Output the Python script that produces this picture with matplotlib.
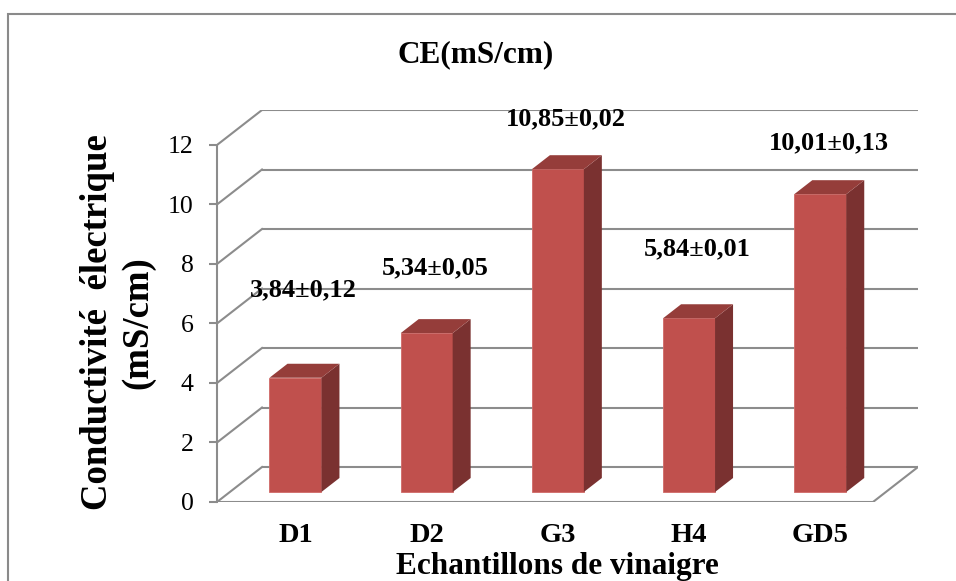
import matplotlib
matplotlib.use("Agg")
import matplotlib.pyplot as plt
from matplotlib.patches import Polygon
from matplotlib.lines import Line2D

# Electrical conductivity of the vinegar samples (mean ± sd, mS/cm)
samples = ["D1", "D2", "G3", "H4", "GD5"]
ce_mean = [3.84, 5.34, 10.85, 5.84, 10.01]
ce_sd = [0.12, 0.05, 0.02, 0.01, 0.13]
y_ticks = [0, 2, 4, 6, 8, 10, 12]

value_labels = [f"{m:.2f}±{s:.2f}".replace(".", ",") for m, s in zip(ce_mean, ce_sd)]
# vertical lift of each value label above its bar top (data units)
label_lift = [3.29, 2.53, 2.02, 2.67, 2.06]

plt.rcParams["font.family"] = ["Liberation Serif", "DejaVu Serif"]

W, H = 956, 581
fig = plt.figure(figsize=(W / 100, H / 100), dpi=100)
fig.patch.set_facecolor("white")

GRID = "#8c8c8c"
FRONT = "#c0504d"
TOP = "#953d3a"
SIDE = "#7a3130"

# oblique depth vector of the pseudo-3D box, in data units
DX, DY = 0.343, 1.176
n = len(samples)
ymax = y_ticks[-1]

# plotting box in pixels
px_l, px_r, px_b, px_t = 217, 918, 502, 110
ax = fig.add_axes([px_l / W, 1 - px_b / H, (px_r - px_l) / W, (px_b - px_t) / H])
ax.set_xlim(-0.5, n - 0.5 + DX)
ax.set_ylim(0, ymax + DY)
ax.patch.set_alpha(0)
for s in ["top", "right", "bottom"]:
    ax.spines[s].set_visible(False)
ax.spines["left"].set_bounds(0, ymax)
ax.spines["left"].set_color(GRID)
ax.spines["left"].set_linewidth(1.5)

# back wall gridlines and side-wall diagonals
for v in y_ticks:
    ax.plot([-0.5 + DX, n - 0.5 + DX], [v + DY, v + DY], color=GRID, lw=1.5,
            zorder=1, solid_capstyle="butt")
    ax.plot([-0.5, -0.5 + DX], [v, v + DY], color=GRID, lw=1.5, zorder=1)
# floor front and right edges
ax.plot([-0.5, n - 0.5], [0, 0], color=GRID, lw=1.5, zorder=1)
ax.plot([n - 0.5, n - 0.5 + DX], [0, DY], color=GRID, lw=1.5, zorder=1)

# bars: front faces with ax.bar, plus top and side faces
d0, d1 = 0.286, 0.686
hw = 0.198
xs = list(range(n))
xf = [x + d0 * DX for x in xs]
base = d0 * DY
ax.bar(xf, ce_mean, width=2 * hw, bottom=base, color=FRONT,
       edgecolor="#d06a67", linewidth=0.6, zorder=3)
ddx, ddy = (d1 - d0) * DX, (d1 - d0) * DY
for x, v in zip(xf, ce_mean):
    xl, xr = x - hw, x + hw
    top = base + v
    ax.add_patch(Polygon([(xr, base), (xr + ddx, base + ddy), (xr + ddx, top + ddy), (xr, top)],
                         closed=True, facecolor=SIDE, edgecolor="none", zorder=3))
    ax.add_patch(Polygon([(xl, top), (xr, top), (xr + ddx, top + ddy), (xl + ddx, top + ddy)],
                         closed=True, facecolor=TOP, edgecolor="none", zorder=3))

# value labels
for x, v, lift, txt in zip(xs, ce_mean, label_lift, value_labels):
    ax.text(x + 0.16, v + lift, txt, ha="center", va="center", fontsize=19,
            fontweight="bold", color="black", zorder=5, clip_on=False)

# axes ticks
ax.set_yticks(y_ticks)
ax.set_yticklabels([str(t) for t in y_ticks], fontsize=18.5)
ax.tick_params(axis="y", direction="out", length=5.5, width=1.5, color=GRID, pad=11.5)
ax.set_xticks(xf)
ax.set_xticklabels(samples, fontsize=20.5, fontweight="bold")
ax.tick_params(axis="x", length=0, pad=15)

# titles
fig.text(476 / W, 1 - 62 / H, "CE(mS/cm)", ha="center", va="baseline",
         fontsize=22.5, fontweight="bold")
fig.text(557 / W, 1 - 574 / H, "Echantillons de vinaigre", ha="center", va="baseline",
         fontsize=22.5, fontweight="bold")
fig.text(107 / W, 1 - 322 / H, "Conductivité  électrique", ha="center", va="baseline",
         rotation=90, rotation_mode="anchor", fontsize=26.5, fontweight="bold")
fig.text(147 / W, 1 - 323 / H, "(mS/cm)", ha="center", va="baseline",
         rotation=90, rotation_mode="anchor", fontsize=26.5, fontweight="bold")

# chart frame (left and top edges; the rest runs off the canvas)
fx, fy = 7.5 / W, 1 - 13.5 / H
fig.add_artist(Line2D([fx, fx, 1.0], [0.0, fy, fy], transform=fig.transFigure,
                      color="#8a8a8a", linewidth=1.5, solid_joinstyle="miter"))

fig.savefig("out.png", dpi=100, facecolor="white")
